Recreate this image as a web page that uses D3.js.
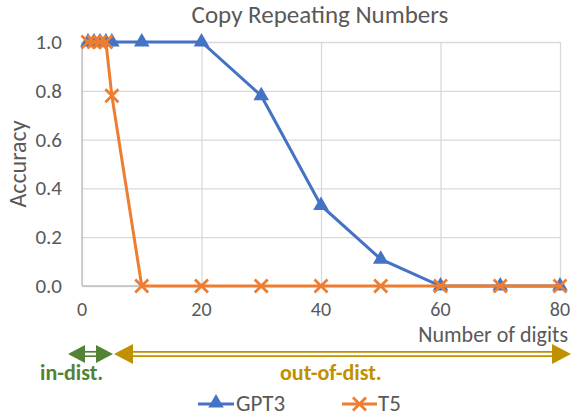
<!DOCTYPE html>
<html>
<head>
<meta charset="utf-8">
<script src="https://cdn.jsdelivr.net/npm/d3@7"></script>
<style>
  body { margin: 0; background: #fff; }
  text { font-family: Calibri, Carlito, "Open Sans", "Noto Sans", sans-serif; }
</style>
</head>
<body>
<svg id="chart" width="571" height="417"></svg>
<script>
// data
const gptX = [1, 2, 3, 4, 5, 10, 20, 30, 40, 50, 60, 70, 80];
const gptY = [1, 1, 1, 1, 1, 1, 1, 0.78, 0.33, 0.11, 0, 0, 0];
const t5X = [1, 2, 3, 4, 5, 10, 20, 30, 40, 50, 60, 70, 80];
const t5Y = [1, 1, 1, 1, 0.78, 0, 0, 0, 0, 0, 0, 0, 0];
const xTicks = [0, 20, 40, 60, 80];
const yTicks = [0, 0.2, 0.4, 0.6, 0.8, 1.0];
const seriesNames = ["GPT3", "T5"];

const blue = "#4472c4", orange = "#ed7d31", green = "#548235", gold = "#bf9000";
const textCol = "#595959";

const svg = d3.select("#chart");

const x = d3.scaleLinear().domain([0, 80]).range([82, 560]);
const y = d3.scaleLinear().domain([0, 1]).range([286, 42]);

// grid
svg.append("g")
  .attr("transform", "translate(0,286)")
  .call(d3.axisBottom(x).tickValues(xTicks).tickSize(-244).tickFormat(""))
  .call(g => g.select(".domain").remove())
  .call(g => g.selectAll("line").attr("stroke", "#d9d9d9").attr("stroke-width", 1.3));
svg.append("g")
  .attr("transform", "translate(82,0)")
  .call(d3.axisLeft(y).tickValues(yTicks).tickSize(-478).tickFormat(""))
  .call(g => g.select(".domain").remove())
  .call(g => g.selectAll("line").attr("stroke", "#d9d9d9").attr("stroke-width", 1.3));

// axis lines
svg.append("line").attr("x1", x(0)).attr("x2", x(80)).attr("y1", y(0)).attr("y2", y(0))
  .attr("stroke", "#bfbfbf").attr("stroke-width", 1.3);
svg.append("line").attr("x1", x(0)).attr("x2", x(0)).attr("y1", y(0)).attr("y2", y(1))
  .attr("stroke", "#bfbfbf").attr("stroke-width", 1.3);

// tick labels
svg.append("g").selectAll("text").data(yTicks).join("text")
  .attr("x", 62).attr("y", d => y(d) + 7)
  .attr("text-anchor", "end").attr("font-size", 21).attr("fill", textCol)
  .text(d => d3.format(".1f")(d));
svg.append("g").selectAll("text").data(xTicks).join("text")
  .attr("x", d => x(d)).attr("y", 316)
  .attr("text-anchor", "middle").attr("font-size", 20).attr("fill", textCol)
  .text(d => d);

// titles
svg.append("text").attr("x", 320).attr("y", 23).attr("text-anchor", "middle")
  .attr("font-size", 25).attr("fill", textCol).text("Copy Repeating Numbers");
svg.append("text").attr("transform", "translate(26,164) rotate(-90)")
  .attr("text-anchor", "middle").attr("font-size", 24).attr("fill", textCol).text("Accuracy");
svg.append("text").attr("x", 568).attr("y", 342).attr("text-anchor", "end")
  .attr("font-size", 22).attr("fill", textCol).text("Number of digits");

// lines
const gptData = gptX.map((d, i) => ({x: d, y: gptY[i]}));
const t5Data = t5X.map((d, i) => ({x: d, y: t5Y[i]}));
const line = d3.line().x(d => x(d.x)).y(d => y(d.y));

const tri = d3.symbol().type(d3.symbolTriangle).size(105);
function cross(g, cx, cy, r, col) {
  g.append("path")
    .attr("d", `M${cx - r},${cy - r}L${cx + r},${cy + r}M${cx - r},${cy + r}L${cx + r},${cy - r}`)
    .attr("stroke", col).attr("stroke-width", 2.8).attr("fill", "none");
}

svg.append("path").datum(gptData).attr("d", line)
  .attr("fill", "none").attr("stroke", blue).attr("stroke-width", 3);
svg.append("g").selectAll("path").data(gptData).join("path")
  .attr("transform", d => `translate(${x(d.x)},${y(d.y)})`)
  .attr("d", tri).attr("fill", blue);

svg.append("path").datum(t5Data).attr("d", line)
  .attr("fill", "none").attr("stroke", orange).attr("stroke-width", 3);
const t5g = svg.append("g");
t5Data.forEach(d => cross(t5g, x(d.x), y(d.y), 6.5, orange));

// distribution arrows
function arrow(x1, x2, col, hl, hh) {
  const g = svg.append("g");
  const yc = 354;
  const a = x1 + hl, b = x2 - hl;
  g.append("line").attr("x1", a).attr("x2", b).attr("y1", yc - 2.2).attr("y2", yc - 2.2)
    .attr("stroke", col).attr("stroke-width", 1.7);
  g.append("line").attr("x1", a).attr("x2", b).attr("y1", yc + 2.2).attr("y2", yc + 2.2)
    .attr("stroke", col).attr("stroke-width", 1.7);
  g.append("path")
    .attr("d", `M${x1},${yc}L${x1 + hl},${yc - hh}L${x1 + hl},${yc + hh}Z`).attr("fill", col);
  g.append("path")
    .attr("d", `M${x2},${yc}L${x2 - hl},${yc - hh}L${x2 - hl},${yc + hh}Z`).attr("fill", col);
}
arrow(68, 113, green, 17, 9);
arrow(114, 571, gold, 19, 10);

svg.append("text").attr("x", 40).attr("y", 380).attr("font-size", 22).attr("font-weight", "bold")
  .attr("fill", green).text("in-dist.");
svg.append("text").attr("x", 280).attr("y", 380).attr("font-size", 22).attr("font-weight", "bold")
  .attr("fill", gold).text("out-of-dist.");

// legend
const lg = svg.append("g");
lg.append("line").attr("x1", 198).attr("x2", 234).attr("y1", 404).attr("y2", 404)
  .attr("stroke", blue).attr("stroke-width", 3);
lg.append("path").attr("transform", "translate(216,403)").attr("d", tri).attr("fill", blue);
lg.append("text").attr("x", 236).attr("y", 411).attr("font-size", 23).attr("fill", textCol).text(seriesNames[0]);
lg.append("line").attr("x1", 342).attr("x2", 377).attr("y1", 404).attr("y2", 404)
  .attr("stroke", orange).attr("stroke-width", 3);
cross(lg, 359.5, 404, 6.5, orange);
lg.append("text").attr("x", 378).attr("y", 411).attr("font-size", 23).attr("fill", textCol).text(seriesNames[1]);
</script>
</body>
</html>
